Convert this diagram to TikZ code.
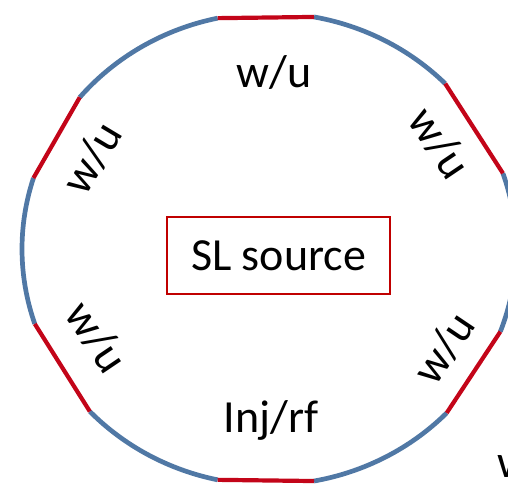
\documentclass[tikz,border=0pt]{standalone}
\usepackage{fontspec}
\setmainfont{Carlito}
\definecolor{ringblue}{RGB}{80,120,165}
\definecolor{ringred}{RGB}{195,5,25}
\definecolor{boxred}{RGB}{192,0,0}
\begin{document}
\begin{tikzpicture}[x=1pt,y=1pt,
  arcpart/.style={draw=ringblue,line width=4.7pt},
  chordpart/.style={draw=ringred,line width=4.2pt},
  lbl/.style={font=\fontsize{46}{52}\selectfont,inner sep=0pt},
  srcbox/.style={draw=boxred,line width=1.3pt,minimum width=223pt,minimum height=77pt,
    inner sep=0pt,font=\fontsize{46}{52}\selectfont}]
\useasboundingbox (0,0) rectangle (508,484);
\clip (0,0) rectangle (508,484);
\coordinate (C) at (269,235);
\def\rx{247}\def\ry{236}
% blue arcs of the ring
\foreach \a/\b in {102/140, 162.5/198.5, 223.5/258, 280.5/316, 339.5/378.7, 44.5/79.5}
  \draw[arcpart] (C) ++(\a:\rx pt and \ry pt) arc[start angle=\a,end angle=\b,x radius=\rx pt,y radius=\ry pt];
% straight red sections
\foreach \a/\b in {79.5/102, 140/162.5, 198.5/223.5, 258/280.5, 316/339.5, 18.7/44.5}
  \draw[chordpart] (C) ++(\a:\rx pt and \ry pt) coordinate (p) (C) ++(\b:\rx pt and \ry pt) coordinate (q) (p) -- (q);
% central source box
\node[srcbox] (src) at (278.5,228.5) {SL source};
% section labels
\node[lbl,anchor=base] (wtop) at (274,396) {w/u};
\node[lbl,rotate=-56] (wur) at (440,341) {w/u};
\node[lbl,rotate=59] (wul) at (92,326) {w/u};
\node[lbl,rotate=-56] (wll) at (97,147) {w/u};
\node[lbl,rotate=56] (wlr) at (444,136) {w/u};
\node[lbl,anchor=base] (inj) at (271,51) {Inj/rf};
\node[lbl,anchor=base west] (wcut) at (497,6) {w/u};
\end{tikzpicture}
\end{document}
